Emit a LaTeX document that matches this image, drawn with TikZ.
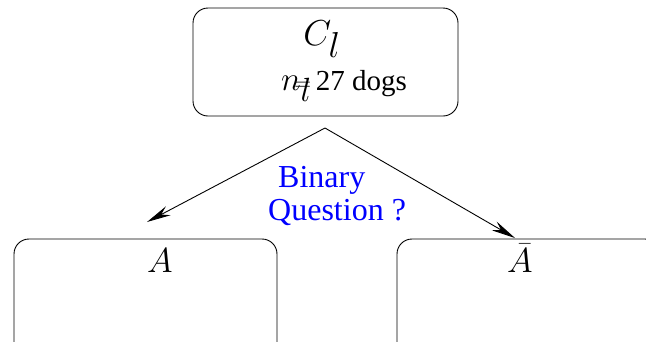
\documentclass[tikz,border=0pt]{standalone}
\usepackage{fontspec}
\setmainfont{Liberation Serif}
\usetikzlibrary{arrows.meta}

\tikzset{
  box/.style={draw,rounded corners=15pt,line width=0.9pt,inner sep=0pt},
  branch/.style={line width=0.9pt,-{Stealth[length=24pt,width=10pt,inset=8pt]}},
  question/.style={text=blue,font=\fontsize{32}{33}\selectfont,align=left,inner sep=0pt},
  maths/.style={font=\fontsize{24}{26}\selectfont,anchor=base,inner sep=0pt}
}

\begin{document}
\begin{tikzpicture}[x=1pt,y=-1pt]
    % frame of the picture, boxes below run off the edge
    \useasboundingbox (0,0) rectangle (646,341);
    \clip (0,0) rectangle (646,341);

    % parent class
    \node[box,minimum width=265pt,minimum height=108pt] (root) at (325.5,62) {};
    \node[maths] (title) at (322,45) {\scalebox{1.45}{$C_{\textstyle l}$}};
    \node[maths] (count) at (344,90) {\scalebox{1.35}{%
        $n_{\textstyle l\llap{\raisebox{0.35em}{$\scriptstyle=$}}}$}%
        \,\fontsize{29}{30}\selectfont 27 dogs};

    % the two children
    \node[box,minimum width=263pt,minimum height=120pt] (yes) at (145.5,299) {};
    \node[box,minimum width=263pt,minimum height=120pt] (no) at (528.5,299) {};
    \node[maths] (yeslabel) at (160,272) {\scalebox{1.4}{$A$}};
    \node[maths] (nolabel) at (520,272) {\scalebox{1.4}{$\bar{A}$}};

    % split
    \coordinate (apex) at (325,128);
    \coordinate (lefttip) at (147,222);
    \coordinate (righttip) at (515,238);
    \draw[branch] (apex) -- (lefttip);
    \draw[branch] (apex) -- (righttip);
    \node[question,anchor=west] (split) at (268,196)
        {\hspace*{10pt}Binary\\Question ?};
\end{tikzpicture}
\end{document}
